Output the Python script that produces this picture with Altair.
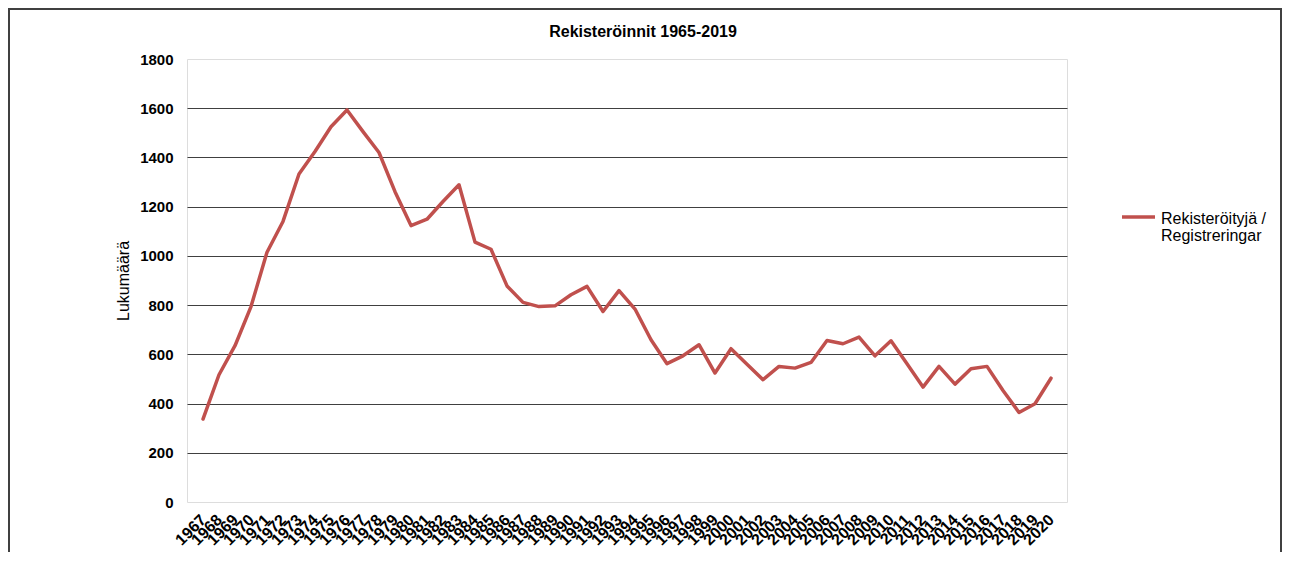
import altair as alt
import pandas as pd

years = [str(y) for y in range(1967, 2021)]
values = [337, 517, 635, 794, 1015, 1140, 1333, 1424, 1525, 1593,
          1505, 1420, 1261, 1123, 1149, 1221, 1289, 1056, 1027, 878,
          811, 794, 797, 842, 876, 774, 859, 784, 659, 562,
          594, 639, 524, 623, 560, 497, 551, 544, 567, 656,
          643, 670, 594, 655, 562, 467, 551, 479, 541, 551,
          453, 364, 399, 503]
series_name = "Rekisteröityjä / Registreringar"
y_ticks = [0, 200, 400, 600, 800, 1000, 1200, 1400, 1600, 1800]

df = pd.DataFrame({"year": years, "value": values, "series": series_name})

FONT = "Liberation Sans, Arial"

line = alt.Chart(df).mark_line(strokeWidth=3.5, strokeCap="round", strokeJoin="round").encode(
    x=alt.X("year:O", sort=years,
            scale=alt.Scale(type="point", padding=1),
            axis=alt.Axis(title=None, labelAngle=-45, labelAlign="right", labelBaseline="middle",
                          labelFontWeight="bold", labelFontSize=16, labelFont=FONT, labelColor="#000",
                          labelOverlap=False, labelPadding=15, ticks=False, domain=False, grid=False)),
    y=alt.Y("value:Q",
            scale=alt.Scale(domain=[0, 1800], nice=False),
            axis=alt.Axis(title="Lukumäärä", values=y_ticks, format="d", labelFontWeight="bold", labelFontSize=15,
                          labelFont=FONT, labelColor="#000", labelPadding=14, ticks=False, domain=False,
                          grid=True, gridColor="#404040", gridWidth=1,
                          gridOpacity={"condition": {"test": "datum.value == 0 || datum.value == 1800", "value": 0}, "value": 1},
                          titleFont=FONT, titleFontSize=16, titleFontWeight="normal", titleColor="#000",
                          titleX=-64, titleY=221.5, titleAngle=-90, titleAlign="center", titleBaseline="middle")),
    color=alt.Color("series:N", scale=alt.Scale(range=["#C0504D"]),
                    legend=alt.Legend(title=None, orient="none", legendX=933, legendY=146,
                                      symbolType="M-1,-0.4L1,-0.4", symbolSize=1089, symbolStrokeWidth=3.5,
                                      labelFont=FONT, labelFontSize=16, labelColor="#000",
                                      labelBaseline="alphabetic", labelOffset=4,
                                      labelLimit=300, padding=0,
                                      labelExpr="[split(datum.label, ' / ')[0] + ' /', split(datum.label, ' / ')[1]]")),
)

frame = alt.Chart(df).mark_rect(filled=False, stroke="#404040", strokeWidth=1.5).encode(
    x=alt.value(-178), x2=alt.value(1094), y=alt.value(-50.5), y2=alt.value(560)
)

chart = alt.layer(frame, line).properties(
    width=880, height=443,
    title=alt.TitleParams("Rekisteröinnit 1965-2019", font=FONT, fontSize=16, fontWeight="bold",
                          color="#000", anchor="middle", dx=16, baseline="alphabetic", offset=-45),
    autosize=alt.AutoSizeParams(type="none"),
    padding={"left": 179, "top": 51, "right": 215, "bottom": 50},
).configure_view(stroke="#7a7a7a", strokeWidth=2).configure(
    background="white", style={"guide-label": {"lineHeight": 17}}
)

chart.save("out.html", embed_options={"renderer": "svg", "actions": False})
